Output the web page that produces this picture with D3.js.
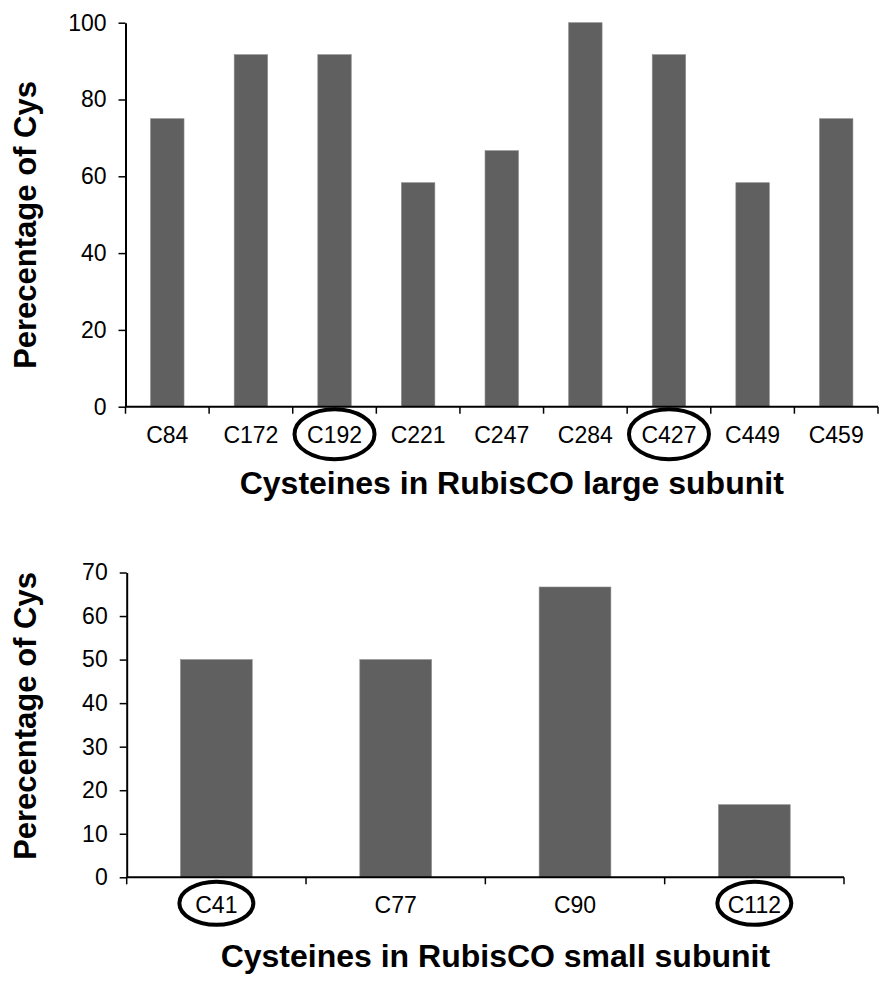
<!DOCTYPE html>
<html lang="en">
<head>
<meta charset="UTF-8">
<title>Cysteines in RubisCO</title>
<script src="https://d3js.org/d3.v7.min.js"></script>
<style>
    body { margin: 0; background: #fff; }
    svg { display: block; font-family: "Liberation Sans", Arial, Helvetica, sans-serif; }
</style>
</head>
<body>
<div id="chart"></div>
<script>
// large subunit
var largeSites = ['C84', 'C172', 'C192', 'C221', 'C247', 'C284', 'C427', 'C449', 'C459'];
var largeValues = [75, 91.67, 91.67, 58.33, 66.67, 100, 91.67, 58.33, 75];
var largeTicks = [0, 20, 40, 60, 80, 100];
var largeCircled = ['C192', 'C427'];

// small subunit
var smallSites = ['C41', 'C77', 'C90', 'C112'];
var smallValues = [50, 50, 66.67, 16.67];
var smallTicks = [0, 10, 20, 30, 40, 50, 60, 70];
var smallCircled = ['C41', 'C112'];

var yLabel = 'Perecentage of Cys';

var W = 892, H = 986;
var barColor = '#606060';

var svg = d3.select('#chart').append('svg')
    .attr('width', W)
    .attr('height', H);

function drawChart(opt) {
    var data = opt.sites.map(function(s, i) { return {site: s, value: opt.values[i]}; });

    var x = d3.scaleBand()
        .domain(opt.sites)
        .range([opt.left, opt.right])
        .paddingInner(0.6)
        .paddingOuter(0.3);

    var y = d3.scaleLinear()
        .domain([0, d3.max(opt.ticks)])
        .range([opt.bottom, opt.top]);

    var g = svg.append('g');

    // bars
    g.selectAll('rect.bar')
        .data(data)
        .enter()
        .append('rect')
        .attr('class', 'bar')
        .attr('x', function(d) { return x(d.site); })
        .attr('y', function(d) { return y(d.value); })
        .attr('width', x.bandwidth())
        .attr('height', function(d) { return y(0) - y(d.value); })
        .style('fill', barColor)
        .style('stroke', '#8a8a8a')
        .style('stroke-width', 0.6);

    // y axis
    var yAxis = d3.axisLeft(y)
        .tickValues(opt.ticks)
        .tickSize(7)
        .tickPadding(12)
        .tickSizeOuter(0);
    var ya = g.append('g')
        .attr('transform', 'translate(' + opt.left + ',0)')
        .call(yAxis);
    ya.attr('font-size', null).attr('font-family', null);
    ya.select('.domain').attr('stroke', '#000').attr('stroke-width', 2);
    ya.selectAll('.tick line').attr('stroke', '#000').attr('stroke-width', 1.5);
    ya.selectAll('.tick text')
        .style('font-size', '23px')
        .attr('fill', '#000');

    // x axis: ticks between categories (excel style)
    var step = x.step();
    var bounds = d3.range(opt.sites.length + 1).map(function(i) { return opt.left + i * step; });
    var xa = g.append('g');
    xa.append('line')
        .attr('x1', opt.left).attr('x2', opt.right)
        .attr('y1', y(0)).attr('y2', y(0))
        .attr('stroke', '#000').attr('stroke-width', 2);
    xa.selectAll('line.xt')
        .data(bounds)
        .enter()
        .append('line')
        .attr('class', 'xt')
        .attr('x1', function(d) { return d; })
        .attr('x2', function(d) { return d; })
        .attr('y1', y(0))
        .attr('y2', y(0) + 7)
        .attr('stroke', '#000').attr('stroke-width', 1.5);
    xa.selectAll('text.xl')
        .data(opt.sites)
        .enter()
        .append('text')
        .attr('class', 'xl')
        .attr('x', function(d) { return x(d) + x.bandwidth() / 2; })
        .attr('y', y(0) + 36)
        .attr('text-anchor', 'middle')
        .style('font-size', '23px')
        .attr('fill', '#000')
        .text(function(d) { return d; });

    // circled sites
    g.selectAll('ellipse')
        .data(opt.circled)
        .enter()
        .append('ellipse')
        .attr('cx', function(d) { return x(d) + x.bandwidth() / 2; })
        .attr('cy', y(0) + opt.ellipse.dy)
        .attr('rx', opt.ellipse.rx)
        .attr('ry', opt.ellipse.ry)
        .attr('fill', 'none')
        .attr('stroke', '#000')
        .attr('stroke-width', 4);

    // axis titles
    g.append('text')
        .attr('x', (opt.left + opt.right) / 2 + 10)
        .attr('y', y(0) + opt.titleDy)
        .attr('text-anchor', 'middle')
        .style('font-size', '32px')
        .attr('font-weight', 'bold')
        .attr('fill', '#000')
        .text(opt.title);

    g.append('text')
        .attr('transform', 'translate(36,' + opt.yLabelMid + ') rotate(-90)')
        .attr('text-anchor', 'middle')
        .style('font-size', '31px')
        .attr('font-weight', 'bold')
        .attr('fill', '#000')
        .text(yLabel);
}

drawChart({
    sites: largeSites, values: largeValues, ticks: largeTicks, circled: largeCircled,
    left: 125.5, right: 878, top: 22.7, bottom: 406.7,
    ellipse: {rx: 40, ry: 25, dy: 27.5},
    title: 'Cysteines in RubisCO large subunit', titleDy: 87,
    yLabelMid: 225
});

drawChart({
    sites: smallSites, values: smallValues, ticks: smallTicks, circled: smallCircled,
    left: 126.7, right: 844, top: 572.5, bottom: 877.3,
    ellipse: {rx: 37, ry: 21.5, dy: 26},
    title: 'Cysteines in RubisCO small subunit', titleDy: 90,
    yLabelMid: 716
});
</script>
</body>
</html>
